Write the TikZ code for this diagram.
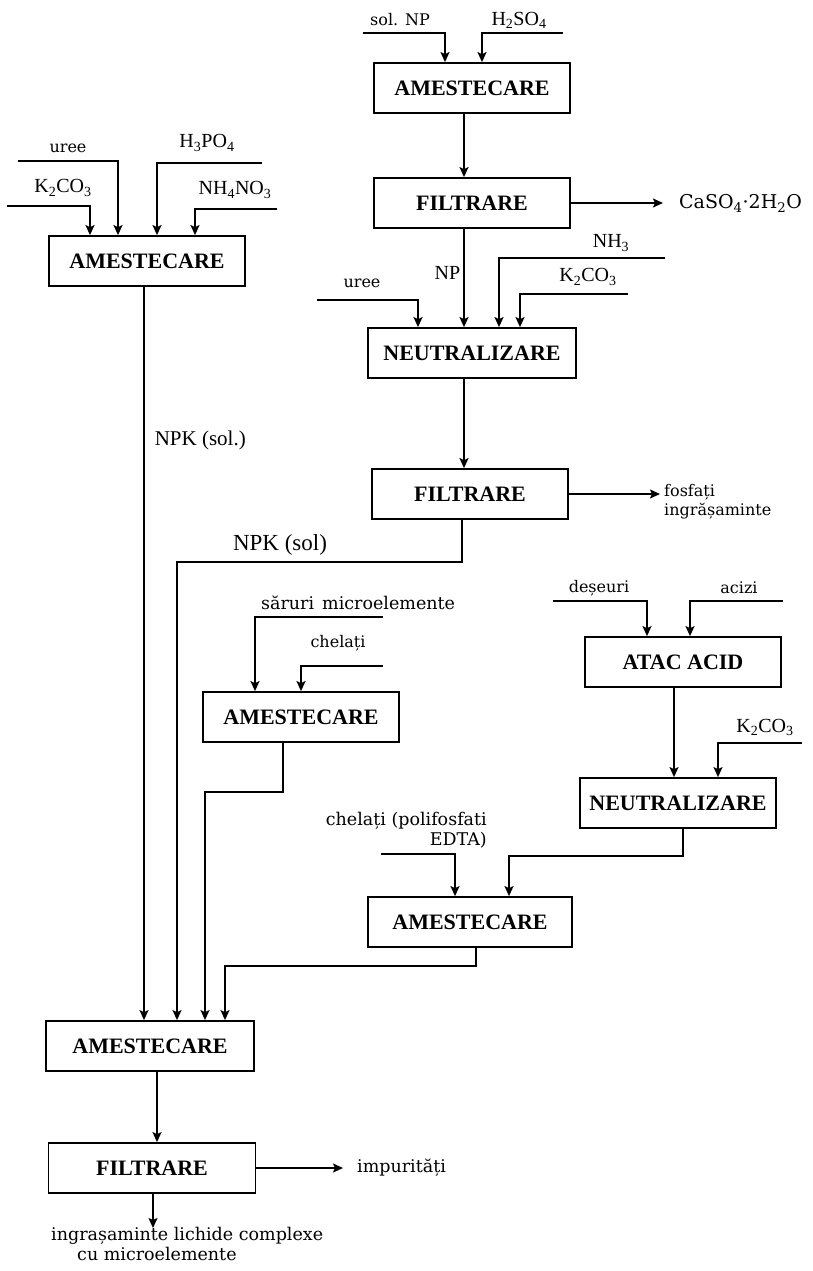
\documentclass[tikz,border=0pt]{standalone}
\usepackage{fontspec}
\setmainfont{Liberation Serif}
\newfontfamily\tagfont{DejaVu Serif}
\usetikzlibrary{arrows.meta,positioning}
\tikzset{
  proc/.style={draw,line width=1.8pt,minimum width=196pt,minimum height=50pt,font=\fontsize{22}{25}\selectfont\bfseries},
  flow/.style={line width=1.6pt,-{Stealth[length=10pt,width=9pt,inset=2pt]}},
  chem/.style={inner sep=1pt,font=\fontsize{20}{23}\selectfont},
  stream/.style={inner sep=1pt,font=\tagfont\fontsize{16}{19}\selectfont},
  bigstream/.style={stream,font=\tagfont\fontsize{17.5}{20}\selectfont},
}
\newcommand{\sbs}[1]{\textsubscript{#1}}

\begin{document}
\begin{tikzpicture}[x=1pt,y=-1pt]
  \useasboundingbox (0,0) rectangle (813,1271);

  % NP line
  \node[proc] (mixNP) at (472,88) {AMESTECARE};
  \node[proc] (filtNP) at (472,203) {FILTRARE};
  \node[proc,minimum width=208pt] (neutNP) at (472,353) {NEUTRALIZARE};
  \node[proc] (filtNPK) at (470,494) {FILTRARE};
  % NPK from salts
  \node[proc] (mixNPK) at (147,261) {AMESTECARE};
  % micro-elements
  \node[proc] (mixMic) at (301,717) {AMESTECARE};
  \node[proc] (atac) at (683,662) {ATAC ACID};
  \node[proc] (neutMic) at (678,803) {NEUTRALIZARE};
  \node[proc,minimum width=204pt] (mixChel) at (470,922) {AMESTECARE};
  % final mixing
  \node[proc,minimum width=208pt] (mixEnd) at (150,1046) {AMESTECARE};
  \node[proc,minimum width=207pt] (filtEnd) at (152,1168) {FILTRARE};

  % free ends of the feeds and products
  \coordinate (fSolNP) at (363,33);
  \coordinate (fH2SO4) at (563,33);
  \coordinate (fUree1) at (18,161);
  \coordinate (fK1) at (7,206);
  \coordinate (fH3PO4) at (262,163);
  \coordinate (fNH4NO3) at (277,209);
  \coordinate (fUree2) at (317,300);
  \coordinate (fNH3) at (665,258);
  \coordinate (fK2) at (628,294);
  \coordinate (fSaruri) at (383,617);
  \coordinate (fChel1) at (383,666);
  \coordinate (fDeseuri) at (553,601);
  \coordinate (fAcizi) at (783,601);
  \coordinate (fK3) at (802,743);
  \coordinate (fChel2) at (381,854);
  \coordinate (oGips) at (663,203);
  \coordinate (oFosf) at (660,494);
  \coordinate (oImp) at (343,1168);
  \coordinate (oProd) at (153,1228);

  % feeds
  \draw[flow] (fSolNP) -| ([xshift=-27pt]mixNP.north);
  \draw[flow] (fH2SO4) -| ([xshift=10pt]mixNP.north);
  \draw[flow] (fUree1) -| ([xshift=-29pt]mixNPK.north);
  \draw[flow] (fK1) -| ([xshift=-57pt]mixNPK.north);
  \draw[flow] (fH3PO4) -| ([xshift=10pt]mixNPK.north);
  \draw[flow] (fNH4NO3) -| ([xshift=48pt]mixNPK.north);
  \draw[flow] (fUree2) -| ([xshift=-54pt]neutNP.north);
  \draw[flow] (fNH3) -| ([xshift=27pt]neutNP.north);
  \draw[flow] (fK2) -| ([xshift=48pt]neutNP.north);
  \draw[flow] (fSaruri) -| ([xshift=-46pt]mixMic.north);
  \draw[flow] (fChel1) -| (mixMic.north);
  \draw[flow] (fDeseuri) -| ([xshift=-36pt]atac.north);
  \draw[flow] (fAcizi) -| ([xshift=7pt]atac.north);
  \draw[flow] (fK3) -| ([xshift=40pt]neutMic.north);
  \draw[flow] (fChel2) -| ([xshift=-15pt]mixChel.north);

  % main streams
  \draw[flow] ([xshift=-8pt]mixNP.south) -- ([xshift=-8pt]filtNP.north);
  \draw[flow] ([xshift=-8pt]filtNP.south) -- node[chem,left=2pt,pos=0.45] {NP} ([xshift=-8pt]neutNP.north);
  \draw[flow] ([xshift=-8pt]neutNP.south) -- ([xshift=-6pt]filtNPK.north);
  \draw[flow] (filtNP.east) -- (oGips);
  \draw[flow] (filtNPK.east) -- (oFosf);
  \draw[flow] ([xshift=-8pt]filtNPK.south) -- ++(0,42) -| ([xshift=27pt]mixEnd.north);
  \draw[flow] ([xshift=-3pt]mixNPK.south) -- node[chem,font=\fontsize{21}{24}\selectfont,right=9pt,pos=0.21] {NPK (sol.)} ([xshift=-6pt]mixEnd.north);
  \draw[flow] ([xshift=-18pt]mixMic.south) -- ++(0,49) -| ([xshift=55pt]mixEnd.north);
  \draw[flow] ([xshift=-9pt]atac.south) -- ([xshift=-4pt]neutMic.north);
  \draw[flow] ([xshift=5pt]neutMic.south) -- ++(0,27) -| ([xshift=39pt]mixChel.north);
  \draw[flow] ([xshift=6pt]mixChel.south) -- ++(0,18) -| ([xshift=75pt]mixEnd.north);
  \draw[flow] ([xshift=7pt]mixEnd.south) -- ([xshift=5pt]filtEnd.north);
  \draw[flow] (filtEnd.east) -- (oImp);
  \draw[flow] ([xshift=1pt]filtEnd.south) -- (oProd);

  % stream names
  \node[stream] (tSolNP) at (400,20) {sol. NP};
  \node[chem] (tH2SO4) at (519,20) {H\sbs{2}SO\sbs{4}};
  \node[stream] (tUree1) at (68,148) {uree};
  \node[chem] (tK1) at (63,188) {K\sbs{2}CO\sbs{3}};
  \node[chem] (tH3PO4) at (207,143) {H\sbs{3}PO\sbs{4}};
  \node[chem] (tNH4NO3) at (235,190) {NH\sbs{4}NO\sbs{3}};
  \node[stream] (tUree2) at (362,283) {uree};
  \node[chem] (tNH3) at (611,243) {NH\sbs{3}};
  \node[chem] (tK2) at (588,277) {K\sbs{2}CO\sbs{3}};
  \node[stream,font=\tagfont\fontsize{19}{22}\selectfont,anchor=west] (tGips) at (678,203) {CaSO\sbs{4}·2H\sbs{2}O};
  \node[stream,anchor=west,align=left] (tFosf) at (663,502) {fosfați\\ingrășaminte};
  \node[chem,font=\fontsize{23}{26}\selectfont] (tNPK) at (280,545) {NPK (sol)};
  \node[bigstream,anchor=west] (tSaruri) at (260,603) {săruri\hspace{8pt}microelemente};
  \node[stream] (tChel1) at (338,643) {chelați};
  \node[stream] (tDeseuri) at (599,588) {deșeuri};
  \node[stream] (tAcizi) at (739,588) {acizi};
  \node[chem] (tK3) at (765,727) {K\sbs{2}CO\sbs{3}};
  \node[bigstream,anchor=east,align=right] (tChel2) at (488,830) {chelați (polifosfati\\EDTA)};
  \node[bigstream,anchor=west] (tImp) at (356,1168) {impurități};
  \node[bigstream,anchor=north west,align=left] (tProd) at (50,1226) {ingrașaminte lichide complexe\\\hspace*{26pt}cu microelemente};
\end{tikzpicture}
\end{document}
